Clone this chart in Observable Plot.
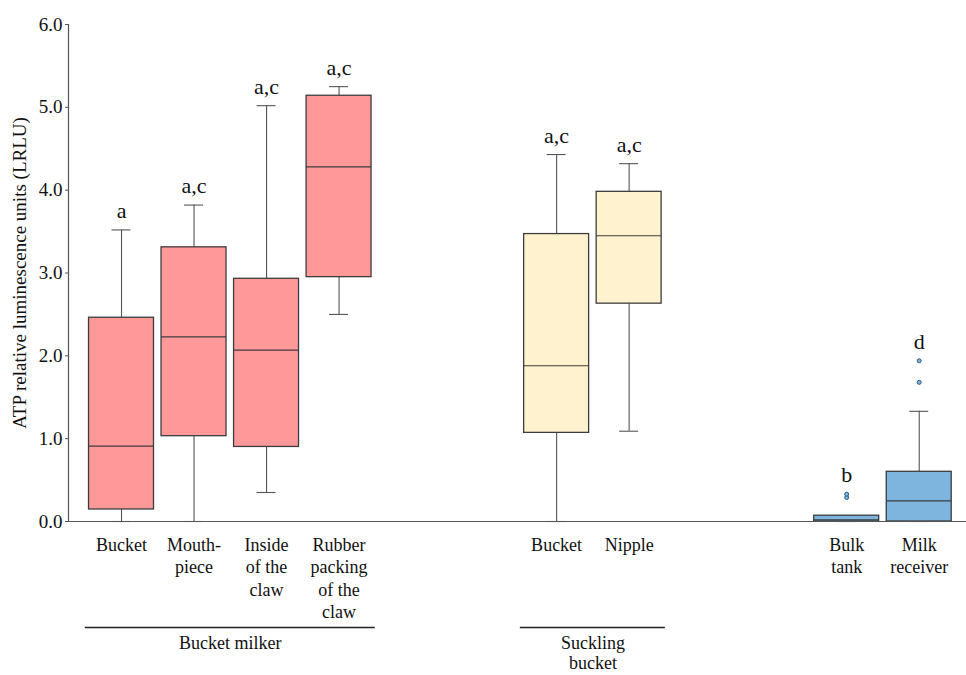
<!DOCTYPE html>
<html>
<head>
<meta charset="utf-8">
<script src="https://cdn.jsdelivr.net/npm/d3@7"></script>
<script src="https://cdn.jsdelivr.net/npm/@observablehq/plot@0.6"></script>
<style>
  html, body { margin: 0; padding: 0; background: #fff; }
  #chart { width: 966px; height: 675px; }
</style>
</head>
<body>
<div id="chart"></div>
<script>
// ---- data ----
const categories = ["Bucket", "Mouth-\npiece", "Inside\nof the\nclaw", "Rubber\npacking\nof the\nclaw", "Bucket", "Nipple", "Bulk\ntank", "Milk\nreceiver"];
const groups     = ["Bucket milker", "Bucket milker", "Bucket milker", "Bucket milker", "Suckling\nbucket", "Suckling\nbucket", "Milking system", "Milking system"];
const slots      = [0, 1, 2, 3, 6, 7, 10, 11];
const mins       = [0.00, 0.00, 0.35, 2.50, 0.00, 1.09, 0.00, 0.00];
const q1s        = [0.145, 1.03, 0.90, 2.95, 1.07, 2.63, 0.00, 0.00];
const medians    = [0.91, 2.23, 2.07, 4.28, 1.88, 3.45, 0.02, 0.25];
const q3s        = [2.46, 3.31, 2.93, 5.14, 3.47, 3.98, 0.07, 0.60];
const maxs       = [3.52, 3.82, 5.02, 5.25, 4.43, 4.32, 0.07, 1.33];
const letters    = ["a", "a,c", "a,c", "a,c", "a,c", "a,c", "b", "d"];
const outlierCat = [6, 6, 7, 7];
const outlierVal = [0.29, 0.33, 1.68, 1.94];
const yTicks     = [0, 1, 2, 3, 4, 5, 6];
const labeledGroups = ["Bucket milker", "Suckling\nbucket"];
const groupColors = {"Bucket milker": "#FF9898", "Suckling\nbucket": "#FFF2CE", "Milking system": "#7DB5DF"};

// ---- derived tables ----
const rows = categories.map((c, i) => ({
  cat: c, group: groups[i], slot: slots[i],
  min: mins[i], q1: q1s[i], median: medians[i], q3: q3s[i], max: maxs[i], letter: letters[i]
}));
const outliers = outlierCat.map((ci, k) => ({slot: slots[ci], v: outlierVal[k], group: groups[ci]}));
rows.forEach(r => {
  const o = outliers.filter(d => d.slot === r.slot).map(d => d.v);
  r.top = Math.max(r.max, ...o);
});
const groupRows = labeledGroups.map(g => {
  const s = rows.filter(r => r.group === g).map(r => r.slot);
  return {name: g, first: d3.min(s), last: d3.max(s)};
});

const W = 0.448, CAP = 0.131;
const FONT = "Liberation Serif";
const INK = "#3c3c3c";

const chart = Plot.plot({
  width: 966,
  height: 675,
  marginLeft: 68,
  marginRight: 0,
  marginTop: 24,
  marginBottom: 154,
  style: {fontSize: "19px", color: "#111", background: "#fff"},
  x: {domain: [-0.731, 11.652], axis: null},
  y: {domain: [0, 6]},
  marks: [
    Plot.axisY(yTicks, {
      tickFormat: d3.format(".1f"), tickSize: 3, tickPadding: 3, fontSize: 19,
      stroke: "#555",
      label: "ATP relative luminescence units (LRLU)", labelAnchor: "center", labelOffset: 56, labelArrow: "none"
    }),
    // whiskers
    Plot.ruleX(rows, {x: "slot", y1: "min", y2: "q1", stroke: "#555", strokeWidth: 1.1}),
    Plot.ruleX(rows, {x: "slot", y1: "q3", y2: "max", stroke: "#555", strokeWidth: 1.1}),
    Plot.ruleY(rows, {y: "max", x1: d => d.slot - CAP, x2: d => d.slot + CAP, stroke: "#555", strokeWidth: 1.1}),
    Plot.ruleY(rows, {y: "min", x1: d => d.slot - CAP, x2: d => d.slot + CAP, stroke: "#555", strokeWidth: 1.1}),
    // boxes
    Plot.rect(rows, {x1: d => d.slot - W, x2: d => d.slot + W, y1: "q1", y2: "q3",
      fill: d => groupColors[d.group], stroke: INK, strokeWidth: 1.3}),
    Plot.ruleY(rows, {y: "median", x1: d => d.slot - W, x2: d => d.slot + W, stroke: INK, strokeWidth: 1.2}),
    // outliers
    Plot.dot(outliers, {x: "slot", y: "v", r: 2, fill: d => groupColors[d.group], stroke: "#2d5a80", strokeWidth: 1}),
    // axis lines
    Plot.ruleY([0], {stroke: "#555", strokeWidth: 1.2}),
    Plot.ruleX([-0.731], {y1: 0, y2: 6, stroke: "#555", strokeWidth: 1.2}),
    // significance letters
    Plot.text(rows, {x: "slot", y: "top", text: "letter", dy: -12, lineAnchor: "bottom", fontSize: 22, fill: "#111"}),
    // category labels
    Plot.text(rows, {x: "slot", y: () => 0, text: "cat", lineAnchor: "top", dy: 13, fontSize: 18, lineHeight: 1.256, fill: "#111"}),
    // group lines and labels
    Plot.ruleY(groupRows, {y: () => 0, x1: d => d.first - 0.5, x2: d => d.last + 0.5, dy: 106, stroke: "#222", strokeWidth: 1.5}),
    Plot.text(groupRows, {x: d => (d.first + d.last) / 2, y: () => 0, text: "name", dy: 113, lineAnchor: "top", fontSize: 18, lineHeight: 1.12, fill: "#111"})
  ]
});
// put the serif face on as a presentation attribute on the svg and every group/text
chart.setAttribute("font-family", FONT);
chart.querySelectorAll("g, text, tspan").forEach(el => el.setAttribute("font-family", FONT));
document.getElementById("chart").appendChild(chart);
</script>
</body>
</html>
